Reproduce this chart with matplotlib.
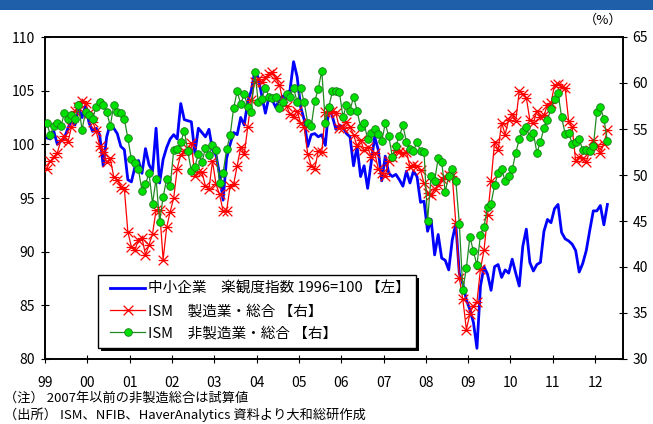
import matplotlib.pyplot as plt
import numpy as np
from matplotlib.lines import Line2D
from matplotlib.patches import Rectangle
from matplotlib.path import Path

plt.rcParams['font.family'] = ['Noto Sans CJK JP', 'DejaVu Sans']

# 月次データ 1999年1月〜2012年4月
nfib = [
    100.6, 100.5, 101.2, 100.0, 100.3, 100.6, 101.5, 102.2, 101.8, 103.5, 102.5, 103.6,
    102.0, 101.2, 101.5, 100.9, 98.0, 100.7, 101.9, 101.5, 101.0, 99.8, 99.5, 96.7,
    96.5, 97.9, 98.5, 97.3, 99.6, 98.1, 97.5, 101.5, 96.4, 98.6, 99.7, 100.5,
    100.9, 100.5, 103.8, 102.3, 102.2, 102.1, 99.2, 101.5, 101.1, 100.7, 101.4, 99.5,
    99.0, 97.2, 94.8, 98.7, 100.0, 101.1, 100.9, 102.5, 101.8, 104.0, 105.0, 106.8,
    106.2, 104.5, 102.9, 104.4, 104.1, 103.4, 104.3, 104.5, 104.3, 105.1, 107.7, 106.3,
    103.5, 102.3, 99.8, 100.9, 101.0, 100.7, 100.9, 99.9, 103.5, 102.6, 101.4, 101.8,
    101.6, 101.0, 100.7, 98.0, 99.8, 97.0, 98.0, 95.9, 98.3, 100.7, 99.5, 96.6,
    98.9, 97.3, 97.0, 97.2, 96.7, 96.1, 97.5, 96.4, 97.5, 97.0, 94.6, 94.7,
    91.9, 93.0, 89.7, 91.6, 89.4, 89.2, 88.3, 91.1, 92.6, 88.0, 87.0, 85.5,
    84.6, 83.4, 81.0, 86.8, 88.6, 87.9, 86.4, 88.6, 88.8, 87.6, 88.3, 88.0,
    89.3, 88.0, 86.8, 90.5, 92.1, 89.0, 88.2, 88.8, 89.0, 91.9, 93.0, 92.7,
    94.0, 94.4, 91.8, 91.2, 91.0, 90.7, 90.1, 88.1, 88.9, 90.1, 92.0, 93.8,
    93.8, 94.3, 92.5, 94.4,
]
ism_mfg = [
    50.7, 51.5, 52.0, 52.4, 53.8, 54.2, 53.6, 55.2, 57.0, 57.4, 58.0, 57.8,
    56.7, 55.8, 54.8, 53.2, 52.5, 51.4, 51.8, 49.8, 49.5, 48.7, 48.5, 43.8,
    42.2, 41.9, 42.9, 43.2, 41.3, 42.4, 43.6, 46.2, 46.2, 40.8, 44.3, 46.0,
    47.5, 50.7, 52.2, 52.6, 52.8, 53.5, 49.9, 50.3, 50.3, 48.8, 48.5, 51.5,
    49.0, 47.9, 46.1, 46.1, 48.8, 49.0, 51.0, 53.0, 52.3, 55.2, 58.1, 60.1,
    60.4, 60.1, 60.6, 61.0, 61.2, 60.5, 59.8, 57.9, 57.5, 56.6, 56.3, 57.0,
    55.6, 55.2, 52.3, 51.0, 50.7, 52.6, 52.5, 56.8, 56.8, 57.0, 56.7, 55.1,
    55.1, 55.8, 55.2, 54.4, 53.1, 53.8, 52.7, 53.0, 52.0, 52.4, 50.7, 50.2,
    49.9, 51.5, 52.0, 52.7, 52.5, 52.4, 52.5, 50.9, 51.1, 51.0, 50.5, 49.1,
    48.0, 47.8, 48.5, 48.9, 49.6, 49.8, 50.0, 49.9, 44.8, 38.8, 36.5, 33.2,
    34.9, 35.8, 36.2, 39.8, 41.8, 45.6, 49.3, 53.6, 52.7, 55.7, 54.4, 56.0,
    56.6, 55.9, 59.1, 58.8, 58.4, 56.0, 55.6, 57.0, 56.3, 56.5, 57.6, 57.8,
    59.8, 59.9, 59.6, 59.5, 55.9, 55.2, 51.5, 52.0, 51.9, 51.4, 52.7, 53.8,
    53.2, 52.4, 53.4, 54.9,
]
ism_nonmfg = [
    55.6, 54.4, 55.3, 55.6, 55.3, 56.7, 56.1, 56.5, 56.1, 57.6, 54.9, 56.9,
    56.5, 56.1, 57.4, 57.9, 57.6, 56.9, 55.3, 57.6, 56.8, 56.7, 56.1, 54.0,
    51.7, 51.3, 50.6, 48.3, 49.0, 50.2, 46.9, 49.6, 44.9, 47.6, 49.6, 48.8,
    52.7, 52.8, 53.6, 54.8, 52.6, 50.4, 50.9, 52.3, 51.4, 52.9, 52.2, 53.3,
    52.7, 49.1, 50.2, 52.8, 54.3, 57.3, 59.1, 57.7, 58.8, 57.4, 56.8, 61.2,
    57.9, 58.3, 59.5, 58.5, 58.4, 58.5, 57.3, 57.9, 58.8, 58.5, 59.5, 57.9,
    59.5, 57.9, 55.7, 55.3, 58.0, 59.4, 61.3, 55.7, 57.4, 59.1, 59.1, 59.0,
    56.3, 57.6, 57.0, 58.5, 57.0, 55.2, 55.6, 53.9, 54.6, 55.0, 54.5, 53.7,
    55.6, 54.2, 52.0, 53.2, 54.2, 55.4, 53.6, 52.8, 52.6, 53.6, 52.6, 52.5,
    45.0, 49.9, 49.4, 51.8, 51.4, 48.2, 49.9, 50.6, 49.4, 44.7, 37.5, 39.9,
    43.3, 41.7, 40.2, 43.5, 44.4, 46.5, 46.9, 48.9, 50.2, 50.7, 49.3, 49.9,
    50.6, 52.4, 53.9, 54.8, 55.2, 54.1, 54.6, 52.4, 53.6, 55.1, 56.0, 57.2,
    58.3, 58.9, 56.3, 54.5, 54.6, 53.4, 53.6, 53.9, 52.7, 52.7, 52.6, 53.1,
    56.9, 57.4, 56.1, 53.7,
]
year_labels = ['99', '00', '01', '02', '03', '04', '05', '06', '07', '08', '09', '10', '11', '12']
labels = ['中小企業\u3000楽観度指数 1996=100 【左】',
          'ISM\u3000製造業・総合 【右】',
          'ISM\u3000非製造業・総合 【右】']

months = np.arange(len(nfib))
x = 1999 + (months + 0.5) / 12

W, H = 653, 424


def fig_box(x0, y0, x1, y1):
    # ピクセル座標(左上原点)から figure 座標の (xy, w, h) へ
    return (x0 / W, 1 - y1 / H), (x1 - x0) / W, (y1 - y0) / H


fig = plt.figure(figsize=(W / 100, H / 100), dpi=100)
ax = fig.add_axes([45 / W, 65 / H, 578 / W, 322 / H])
ax2 = ax.twinx()

# 上部の帯
xy, w, h = fig_box(0, 0, W, 10)
fig.patches.append(Rectangle(xy, w, h, transform=fig.transFigure,
                             facecolor='#1f5ea8', edgecolor='none'))

ax.plot(x, nfib, color='#0000ff', lw=2.0, zorder=2)

# ×に横線を加えた星形マーカー
star_path = Path([(-1, -1), (1, 1), (-1, 1), (1, -1), (-1, 0), (1, 0)],
                 [Path.MOVETO, Path.LINETO, Path.MOVETO, Path.LINETO, Path.MOVETO, Path.LINETO])
ax2.plot(x, ism_mfg, color='#ff0000', lw=0.9, marker=star_path, markersize=7,
         markeredgewidth=0.9, markeredgecolor='#ff0000', zorder=3)
ax2.plot(x, ism_nonmfg, color='#208a20', lw=0.9, marker='o', markersize=5.5,
         markerfacecolor='#00e000', markeredgecolor='#1a7a1a', markeredgewidth=0.6, zorder=4)

ax.set_xlim(1999, 2012.66)
ax.set_ylim(80, 110)
ax2.set_ylim(30, 65)
ax.set_yticks(range(80, 111, 5))
ax2.set_yticks(range(30, 66, 5))
ax.set_xticks(range(1999, 2013))
ax.set_xticklabels(year_labels)

for a in (ax, ax2):
    for s in a.spines.values():
        s.set_linewidth(1.2)
        s.set_color('black')
ax.tick_params(axis='both', direction='inout', length=6, width=0.8, labelsize=10)
ax.tick_params(axis='x', pad=9)
ax.tick_params(axis='y', pad=4)
ax2.tick_params(axis='y', direction='inout', length=6, width=0.8, labelsize=10, pad=4)

fig.text(603 / W, 1 - 20 / H, '（%）', fontsize=9.5, ha='center', va='center')

# 凡例の枠と影
xy, w, h = fig_box(101, 278, 419, 351)
fig.patches.append(Rectangle(xy, w, h, transform=fig.transFigure,
                             facecolor='black', edgecolor='none', zorder=2))
xy, w, h = fig_box(98, 275, 416, 348)
fig.patches.append(Rectangle(xy, w, h, transform=fig.transFigure,
                             facecolor='white', edgecolor='black', lw=1.0, zorder=3))

handles = [
    Line2D([], [], color='#0000ff', lw=2.0),
    Line2D([], [], color='#ff0000', lw=0.9, marker=star_path, markersize=7, markeredgewidth=0.9),
    Line2D([], [], color='#208a20', lw=0.9, marker='o', markersize=5.5,
           markerfacecolor='#00e000', markeredgecolor='#1a7a1a', markeredgewidth=0.6),
]
leg = fig.legend(handles, labels, loc='upper left', bbox_to_anchor=(110 / W, 1 - 282 / H),
                 fontsize=10.5, frameon=False, handlelength=2.4, handletextpad=0.2,
                 labelspacing=0.56, borderpad=0, borderaxespad=0)
leg.set_zorder(5)

fig.text(4 / W, 1 - 398 / H, '（注） 2007年以前の非製造総合は試算値', fontsize=9.5, va='center')
fig.text(4 / W, 1 - 415 / H, '（出所） ISM、NFIB、HaverAnalytics 資料より大和総研作成',
         fontsize=9.5, va='center')

fig.savefig('out.png', dpi=100)
